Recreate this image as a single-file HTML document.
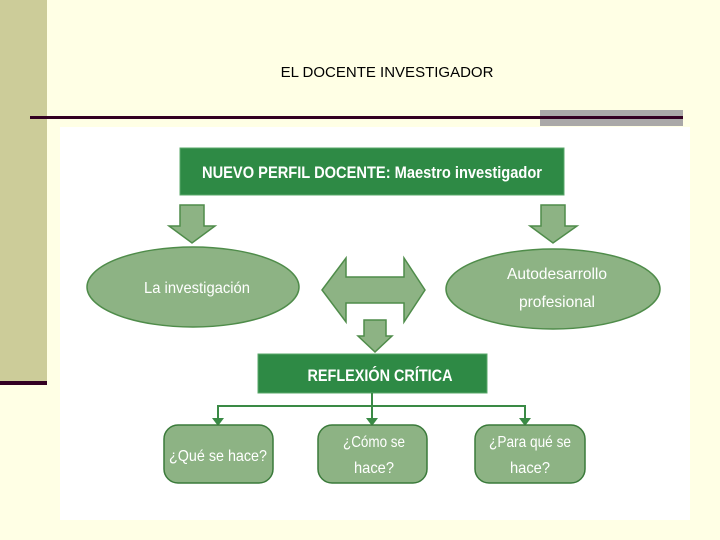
<!DOCTYPE html>
<html><head><meta charset="utf-8"><style>
body{margin:0;width:720px;height:540px;background:#ffffe5;overflow:hidden;position:relative;font-family:"Liberation Sans",sans-serif}
</style></head><body>
<div style="position:absolute;left:0;top:0;width:47px;height:382px;background:#cccc99"></div>
<div style="position:absolute;left:0;top:381px;width:47px;height:4px;background:#330022"></div>
<div style="position:absolute;left:540px;top:110px;width:143px;height:16px;background:#aaa8a8"></div>
<div style="position:absolute;left:30px;top:116px;width:653px;height:3px;background:#330022"></div>
<div style="position:absolute;left:0;top:64px;width:774px;text-align:center;font-size:15px;color:#000">EL DOCENTE INVESTIGADOR</div>
<svg style="position:absolute;left:0;top:0" width="720" height="540">
<rect x="60" y="127" width="630" height="393" fill="#fff"/>
<g font-family="Liberation Sans Narrow, Liberation Sans, sans-serif" text-anchor="middle">
<rect x="180" y="148" width="384" height="47" fill="#2e8a45" stroke="#5aa86a" stroke-width="1"/>
<text x="372" y="178" font-size="17" font-weight="bold" fill="#fff" textLength="340" lengthAdjust="spacingAndGlyphs">NUEVO PERFIL DOCENTE: Maestro investigador</text>
<g fill="#8db384" stroke="#4f8c4a" stroke-width="1.5">
<polygon points="180,205 204,205 204,226 215,226 192,243 169,226 180,226"/>
<polygon points="541,205 565,205 565,226 577,226 553,243 530,226 541,226"/>
<ellipse cx="193" cy="287" rx="106" ry="40"/>
<ellipse cx="553" cy="289" rx="107" ry="40"/>
<polygon points="322,290 346,258 346,277 404,277 404,258 425,290 404,322 404,303 346,303 346,322"/>
<polygon points="364,320 386,320 386,336 392,336 375,352 358,336 364,336"/>
</g>
<text x="197" y="293" font-size="16" fill="#fff" textLength="106" lengthAdjust="spacingAndGlyphs">La investigación</text>
<text x="557" y="279" font-size="16" fill="#fff" textLength="100" lengthAdjust="spacingAndGlyphs">Autodesarrollo</text>
<text x="557" y="307" font-size="16" fill="#fff" textLength="76" lengthAdjust="spacingAndGlyphs">profesional</text>
<rect x="258" y="354" width="229" height="39" fill="#2e8a45" stroke="#5aa86a"/>
<text x="380" y="381" font-size="17" font-weight="bold" fill="#fff" textLength="145" lengthAdjust="spacingAndGlyphs">REFLEXIÓN CRÍTICA</text>
<g stroke="#3a8a45" stroke-width="2" fill="none">
<line x1="372" y1="393" x2="372" y2="420"/>
<polyline points="218,420 218,406 525,406 525,420"/>
</g>
<g fill="#3a8a45">
<polygon points="212,418 224,418 218,426"/><polygon points="366,418 378,418 372,426"/><polygon points="519,418 531,418 525,426"/>
</g>
<g fill="#8db384" stroke="#3a7a3a" stroke-width="1.5">
<rect x="164" y="425" width="109" height="58" rx="14"/>
<rect x="318" y="425" width="109" height="58" rx="14"/>
<rect x="475" y="425" width="110" height="58" rx="14"/>
</g>
<g fill="#fff" font-size="16">
<text x="218" y="461" textLength="98" lengthAdjust="spacingAndGlyphs">¿Qué se hace?</text>
<text x="374" y="447" textLength="62" lengthAdjust="spacingAndGlyphs">¿Cómo se</text>
<text x="374" y="473" textLength="40" lengthAdjust="spacingAndGlyphs">hace?</text>
<text x="530" y="447" textLength="82" lengthAdjust="spacingAndGlyphs">¿Para qué se</text>
<text x="530" y="473" textLength="40" lengthAdjust="spacingAndGlyphs">hace?</text>
</g>
</g>
</svg>
</body></html>
